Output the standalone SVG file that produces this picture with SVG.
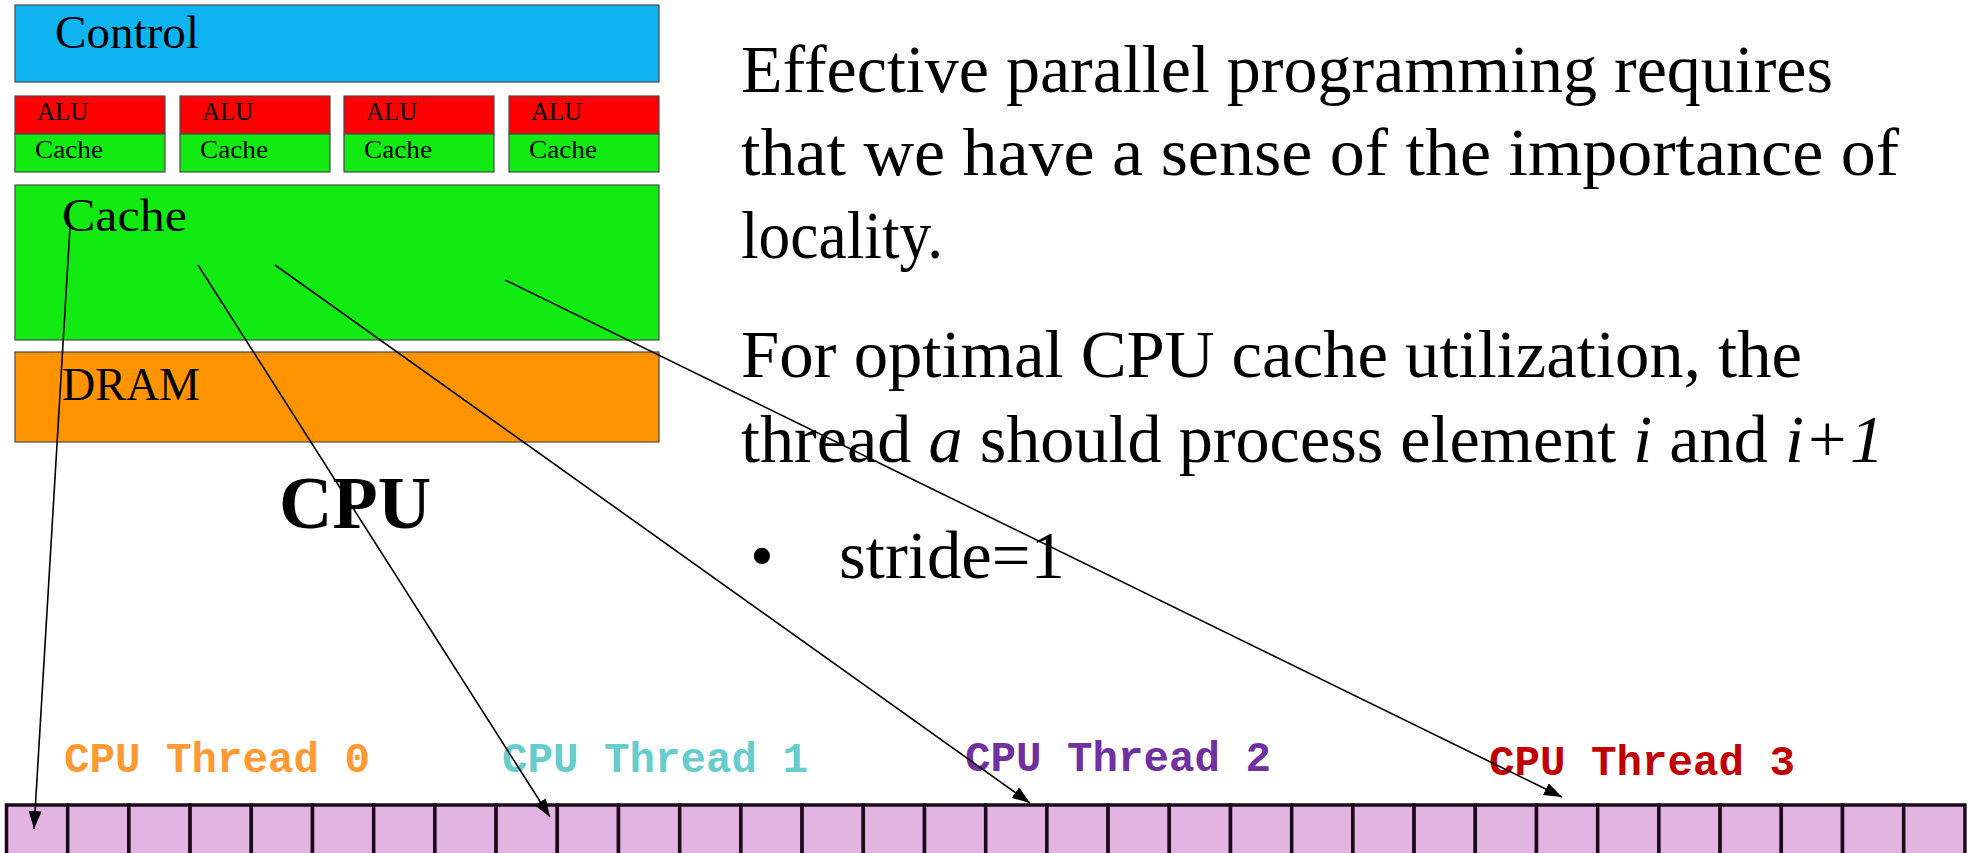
<svg xmlns="http://www.w3.org/2000/svg" width="1976" height="853" viewBox="0 0 1976 853">
  <defs>
    <style>
      .blk { stroke: #4a4a4a; stroke-width: 1.2; }
      .ctl { fill: #0DB4F0; }
      .alu { fill: #FF0000; }
      .cch { fill: #12EB12; }
      .dram { fill: #FF9400; }
      .lbl { font-family: "Liberation Serif", "DejaVu Serif", serif; fill: #000; }
      .big { font-size: 46px; }
      .small { font-size: 25px; }
      .body { font-family: "Liberation Serif", "DejaVu Serif", serif; font-size: 68px; fill: #000; }
      .thr { font-family: "Liberation Mono", "DejaVu Sans Mono", monospace; font-weight: bold; font-size: 42.5px; }
      .cell { fill: #E2B4E2; stroke: #1a0a1a; stroke-width: 3.5; }
      .link { stroke: #000; stroke-width: 1.6; fill: none; marker-end: url(#head); }
    </style>
    <marker id="head" markerUnits="userSpaceOnUse" markerWidth="19" markerHeight="13" refX="18" refY="6.5" orient="auto">
      <path d="M0,0 L18,6.5 L0,13 Z" fill="#000"/>
    </marker>
  </defs>

  <!-- CPU block -->
  <g id="control">
    <rect class="blk ctl" x="15" y="5" width="644" height="77"/>
    <text class="lbl big" x="55" y="48" textLength="144" lengthAdjust="spacingAndGlyphs">Control</text>
  </g>
  <g id="core0">
    <rect class="blk alu" x="15" y="96" width="150" height="38"/>
    <rect class="blk cch" x="15" y="134" width="150" height="38"/>
    <text class="lbl small" x="37" y="120">ALU</text>
    <text class="lbl small" x="35" y="158" textLength="68" lengthAdjust="spacingAndGlyphs">Cache</text>
  </g>
  <g id="core1">
    <rect class="blk alu" x="180" y="96" width="150" height="38"/>
    <rect class="blk cch" x="180" y="134" width="150" height="38"/>
    <text class="lbl small" x="202" y="120">ALU</text>
    <text class="lbl small" x="200" y="158" textLength="68" lengthAdjust="spacingAndGlyphs">Cache</text>
  </g>
  <g id="core2">
    <rect class="blk alu" x="344" y="96" width="150" height="38"/>
    <rect class="blk cch" x="344" y="134" width="150" height="38"/>
    <text class="lbl small" x="366" y="120">ALU</text>
    <text class="lbl small" x="364" y="158" textLength="68" lengthAdjust="spacingAndGlyphs">Cache</text>
  </g>
  <g id="core3">
    <rect class="blk alu" x="509" y="96" width="150" height="38"/>
    <rect class="blk cch" x="509" y="134" width="150" height="38"/>
    <text class="lbl small" x="531" y="120">ALU</text>
    <text class="lbl small" x="529" y="158" textLength="68" lengthAdjust="spacingAndGlyphs">Cache</text>
  </g>
  <g id="shared-cache">
    <rect class="blk cch" x="15" y="185" width="644" height="155"/>
    <text class="lbl big" x="62" y="231" textLength="125" lengthAdjust="spacingAndGlyphs">Cache</text>
  </g>
  <g id="dram">
    <rect class="blk dram" x="15" y="352" width="644" height="90"/>
    <text class="lbl big" x="62" y="400">DRAM</text>
  </g>
  <g id="cpu-title">
    <text class="lbl" x="279" y="528" font-size="74" font-weight="bold">CPU</text>
  </g>

  <!-- explanatory text -->
  <g id="notes">
    <text class="body" x="741" y="92" textLength="1092" lengthAdjust="spacingAndGlyphs">Effective parallel programming requires</text>
    <text class="body" x="741" y="175" textLength="1158" lengthAdjust="spacingAndGlyphs">that we have a sense of the importance of</text>
    <text class="body" x="741" y="258" textLength="202" lengthAdjust="spacingAndGlyphs">locality.</text>
    <text class="body" x="741" y="377" textLength="1061" lengthAdjust="spacingAndGlyphs">For optimal CPU cache utilization, the</text>
    <text class="body" x="741" y="462" textLength="1143" lengthAdjust="spacingAndGlyphs">thread <tspan font-style="italic">a</tspan> should process element <tspan font-style="italic">i</tspan> and <tspan font-style="italic">i+1</tspan></text>
    <text class="body" x="750" y="578">•</text>
    <text class="body" x="839" y="578" textLength="226" lengthAdjust="spacingAndGlyphs">stride=1</text>
  </g>

  <!-- thread labels -->
  <g id="thread0"><text class="thr" x="64" y="772" fill="#FF9933">CPU Thread 0</text></g>
  <g id="thread1"><text class="thr" x="502" y="772" fill="#66CCCC">CPU Thread 1</text></g>
  <g id="thread2"><text class="thr" x="965" y="771" fill="#7030A0">CPU Thread 2</text></g>
  <g id="thread3"><text class="thr" x="1489" y="775" fill="#C00000">CPU Thread 3</text></g>

  <!-- memory array: 32 elements -->
  <g id="array">
    <rect class="cell" x="6.5" y="805" width="61.2" height="60"/>
    <rect class="cell" x="67.7" y="805" width="61.2" height="60"/>
    <rect class="cell" x="128.9" y="805" width="61.2" height="60"/>
    <rect class="cell" x="190.1" y="805" width="61.2" height="60"/>
    <rect class="cell" x="251.3" y="805" width="61.2" height="60"/>
    <rect class="cell" x="312.5" y="805" width="61.2" height="60"/>
    <rect class="cell" x="373.7" y="805" width="61.2" height="60"/>
    <rect class="cell" x="434.9" y="805" width="61.2" height="60"/>
    <rect class="cell" x="496.1" y="805" width="61.2" height="60"/>
    <rect class="cell" x="557.3" y="805" width="61.2" height="60"/>
    <rect class="cell" x="618.5" y="805" width="61.2" height="60"/>
    <rect class="cell" x="679.7" y="805" width="61.2" height="60"/>
    <rect class="cell" x="740.9" y="805" width="61.2" height="60"/>
    <rect class="cell" x="802.1" y="805" width="61.2" height="60"/>
    <rect class="cell" x="863.3" y="805" width="61.2" height="60"/>
    <rect class="cell" x="924.5" y="805" width="61.2" height="60"/>
    <rect class="cell" x="985.7" y="805" width="61.2" height="60"/>
    <rect class="cell" x="1046.9" y="805" width="61.2" height="60"/>
    <rect class="cell" x="1108.1" y="805" width="61.2" height="60"/>
    <rect class="cell" x="1169.3" y="805" width="61.2" height="60"/>
    <rect class="cell" x="1230.5" y="805" width="61.2" height="60"/>
    <rect class="cell" x="1291.7" y="805" width="61.2" height="60"/>
    <rect class="cell" x="1352.9" y="805" width="61.2" height="60"/>
    <rect class="cell" x="1414.1" y="805" width="61.2" height="60"/>
    <rect class="cell" x="1475.3" y="805" width="61.2" height="60"/>
    <rect class="cell" x="1536.5" y="805" width="61.2" height="60"/>
    <rect class="cell" x="1597.7" y="805" width="61.2" height="60"/>
    <rect class="cell" x="1658.9" y="805" width="61.2" height="60"/>
    <rect class="cell" x="1720.1" y="805" width="61.2" height="60"/>
    <rect class="cell" x="1781.3" y="805" width="61.2" height="60"/>
    <rect class="cell" x="1842.5" y="805" width="61.2" height="60"/>
    <rect class="cell" x="1903.7" y="805" width="61.2" height="60"/>
  </g>

  <!-- cache-to-element connectors -->
  <g id="connectors">
    <line class="link" x1="70" y1="227" x2="34" y2="829"/>
    <line class="link" x1="198" y1="265" x2="550" y2="817"/>
    <line class="link" x1="275" y1="265" x2="1030" y2="803"/>
    <line class="link" x1="505" y1="280" x2="1562" y2="797"/>
  </g>
</svg>
